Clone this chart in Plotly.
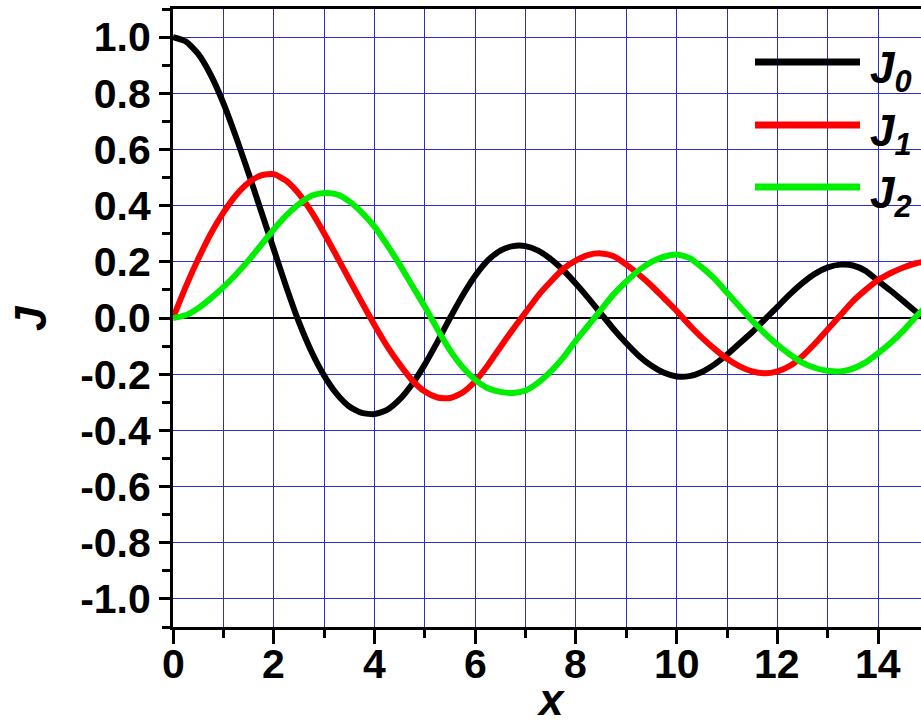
import plotly.graph_objects as go

# ---- data (x step 0.25) ----
x_vals = [i * 0.25 for i in range(61)]
j0_vals = [1.000, 0.985, 0.940, 0.865, 0.765, 0.645, 0.515, 0.380, 0.245, 0.110,
           -0.015, -0.120, -0.205, -0.270, -0.315, -0.338, -0.342, -0.327, -0.290, -0.235,
           -0.165, -0.085, 0.000, 0.080, 0.150, 0.205, 0.240, 0.256, 0.256, 0.240,
           0.210, 0.170, 0.122, 0.070, 0.015, -0.040, -0.090, -0.135, -0.170, -0.195,
           -0.208, -0.207, -0.192, -0.165, -0.130, -0.090, -0.050, -0.005, 0.040, 0.085,
           0.125, 0.158, 0.180, 0.190, 0.187, 0.168, 0.132, 0.097, 0.060, 0.022, -0.015]
j1_vals = [0.000, 0.110, 0.210, 0.300, 0.375, 0.437, 0.482, 0.508, 0.512, 0.488,
           0.442, 0.378, 0.302, 0.220, 0.137, 0.055, -0.025, -0.100, -0.165, -0.222,
           -0.262, -0.283, -0.285, -0.265, -0.225, -0.168, -0.103, -0.040, 0.020, 0.080,
           0.130, 0.175, 0.205, 0.225, 0.230, 0.220, 0.190, 0.155, 0.115, 0.070,
           0.025, -0.025, -0.070, -0.110, -0.145, -0.172, -0.190, -0.197, -0.190, -0.170,
           -0.135, -0.090, -0.040, 0.010, 0.060, 0.100, 0.135, 0.160, 0.180, 0.195, 0.203]
j2_vals = [0.000, 0.010, 0.035, 0.070, 0.110, 0.155, 0.205, 0.260, 0.315, 0.365,
           0.405, 0.435, 0.445, 0.440, 0.415, 0.375, 0.325, 0.260, 0.190, 0.115,
           0.040, -0.040, -0.115, -0.175, -0.220, -0.250, -0.263, -0.267, -0.258, -0.230,
           -0.190, -0.140, -0.080, -0.025, 0.030, 0.085, 0.130, 0.170, 0.200, 0.218,
           0.226, 0.214, 0.180, 0.140, 0.090, 0.040, -0.010, -0.055, -0.095, -0.130,
           -0.160, -0.178, -0.188, -0.190, -0.180, -0.158, -0.125, -0.088, -0.045, 0.005, 0.050]

series_names = ["J0", "J1", "J2"]
series_subs = ["0", "1", "2"]
series_colors = ["#000000", "#ff0000", "#00ee00"]

x_tick_vals = [0, 2, 4, 6, 8, 10, 12, 14]
x_tick_text = ["0", "2", "4", "6", "8", "10", "12", "14"]
y_tick_vals = [-1.0, -0.8, -0.6, -0.4, -0.2, 0.0, 0.2, 0.4, 0.6, 0.8, 1.0]
y_tick_text = ["-1.0", "-0.8", "-0.6", "-0.4", "-0.2", "0.0", "0.2", "0.4", "0.6", "0.8", "1.0"]

# ---- layout geometry ----
W, H = 921, 726
ML, MR, MT, MB = 173, 0, 9, 99
PW, PH = W - ML - MR, H - MT - MB


def px_x(p):
    return (p - ML) / PW


def px_y(p):
    return (H - MB - p) / PH


FONT = "Liberation Sans, Arial, sans-serif"
GRID = "#2e2ec4"
TICKFONT = dict(family=FONT, size=41, color="black", weight="bold")

fig = go.Figure()
for name, ys, col in zip(series_names, [j0_vals, j1_vals, j2_vals], series_colors):
    fig.add_trace(go.Scatter(x=x_vals, y=ys, mode="lines", name=name,
                             line=dict(color=col, width=6, shape="spline", smoothing=0.6),
                             showlegend=False))

# custom legend (white box, long line samples, J with subscripts)
shapes = [dict(type="rect", xref="paper", yref="paper",
               x0=px_x(740), x1=1.02, y0=px_y(245), y1=1.0,
               fillcolor="white", line=dict(width=0), layer="between")]
annotations = []
legend_rows = [62, 125, 187]
for row, col, sub in zip(legend_rows, series_colors, series_subs):
    shapes.append(dict(type="line", xref="paper", yref="paper",
                       x0=px_x(755), x1=px_x(860), y0=px_y(row), y1=px_y(row),
                       line=dict(color=col, width=7), layer="above"))
    annotations.append(dict(xref="paper", yref="paper", x=px_x(868), y=px_y(row + 9),
                            xanchor="left", yanchor="middle", showarrow=False,
                            text="<i>J<sub>" + sub + "</sub></i>",
                            font=dict(family=FONT, size=44, color="black", weight="bold")))

# x tick labels placed on the x scale
for v, t in zip(x_tick_vals, x_tick_text):
    annotations.append(dict(xref="x", yref="paper", x=v, y=px_y(664),
                            xanchor="center", yanchor="middle", showarrow=False,
                            text=t, font=TICKFONT))

annotations.append(dict(xref="paper", yref="paper", x=px_x(551), y=px_y(726),
                        xanchor="center", yanchor="bottom", showarrow=False,
                        text="<i>x</i>",
                        font=dict(family=FONT, size=44, color="black", weight="bold")))
annotations.append(dict(xref="paper", yref="paper", x=px_x(30), y=0.5,
                        xanchor="center", yanchor="middle", showarrow=False, textangle=-90,
                        text="<i>J</i>",
                        font=dict(family=FONT, size=44, color="black", weight="bold")))

fig.update_layout(
    width=W, height=H,
    margin=dict(l=ML, r=MR, t=MT, b=MB, pad=0),
    paper_bgcolor="white", plot_bgcolor="white",
    font=dict(family=FONT, color="black"),
    shapes=shapes, annotations=annotations,
    showlegend=False,
)

fig.update_xaxes(
    range=[0, 14.85], tickmode="array", tickvals=x_tick_vals, ticktext=x_tick_text,
    ticks="outside", ticklen=14, tickwidth=3, tickcolor="black", showticklabels=False,
    showline=True, linecolor="black", linewidth=3, mirror=True,
    showgrid=True, gridcolor=GRID, gridwidth=1, zeroline=False,
    minor=dict(tickmode="linear", tick0=0, dtick=1, ticks="outside", ticklen=8,
               tickwidth=3, tickcolor="black", showgrid=True, gridcolor=GRID, gridwidth=1),
)
fig.update_yaxes(
    range=[-1.1, 1.1], tickmode="array", tickvals=y_tick_vals, ticktext=y_tick_text,
    ticks="outside", ticklen=11, tickwidth=3, tickcolor="black",
    showline=True, linecolor="black", linewidth=3, mirror=False,
    showgrid=True, gridcolor=GRID, gridwidth=1,
    zeroline=True, zerolinecolor="black", zerolinewidth=2,
    tickfont=TICKFONT,
    minor=dict(tickmode="linear", tick0=0, dtick=0.1, ticks="outside", ticklen=8,
               tickwidth=3, tickcolor="black", showgrid=False),
)

fig.write_html("out.html")
